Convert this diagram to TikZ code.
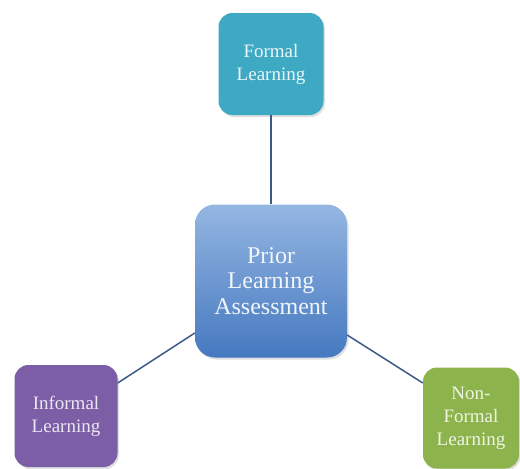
\documentclass[tikz,border=0pt]{standalone}
\usepackage{fontspec}
\setmainfont{Liberation Serif}
\usetikzlibrary{shadows}
\definecolor{formalc}{HTML}{3DA9C3}
\definecolor{informalc}{HTML}{7C5EA6}
\definecolor{nonformalc}{HTML}{8DB44C}
\definecolor{centtop}{HTML}{94B6E2}
\definecolor{centbot}{HTML}{4679C0}
\definecolor{linec}{HTML}{3C5A88}
\begin{document}
\begin{tikzpicture}[x=1pt,y=-1pt,
  box/.style={rounded corners=14pt, align=center, inner sep=0pt,
    drop shadow={shadow xshift=1.5pt, shadow yshift=-2pt, opacity=0.25},
    font=\fontsize{19}{23}\selectfont},
  conn/.style={draw=linec, line width=1.5pt}]
\useasboundingbox (0,0) rectangle (520,469);
\node[box, fill=formalc, text=white!90!formalc, minimum width=105pt, minimum height=102pt] (formal) at (271,64) {Formal\\Learning};
\node[box, top color=centtop, bottom color=centbot, text=white!88!centtop, minimum width=152pt, minimum height=153pt, rounded corners=20pt, font=\fontsize{24}{25.5}\selectfont] (pla) at (271,281) {Prior\\Learning\\Assessment};
\node[box, fill=informalc, text=white!85!informalc, minimum width=103pt, minimum height=102pt] (informal) at (66,416) {Informal\\Learning};
\node[box, fill=nonformalc, text=white!85!nonformalc, minimum width=96pt, minimum height=101pt] (nonformal) at (471,418) {Non-\\Formal\\Learning};
\draw[conn] (formal.south) -- (pla.north);
\draw[conn] (pla.west |- 0,333) -- (informal.east |- 0,383);
\draw[conn] (pla.east |- 0,335) -- (nonformal.west |- 0,383);
\end{tikzpicture}
\end{document}
